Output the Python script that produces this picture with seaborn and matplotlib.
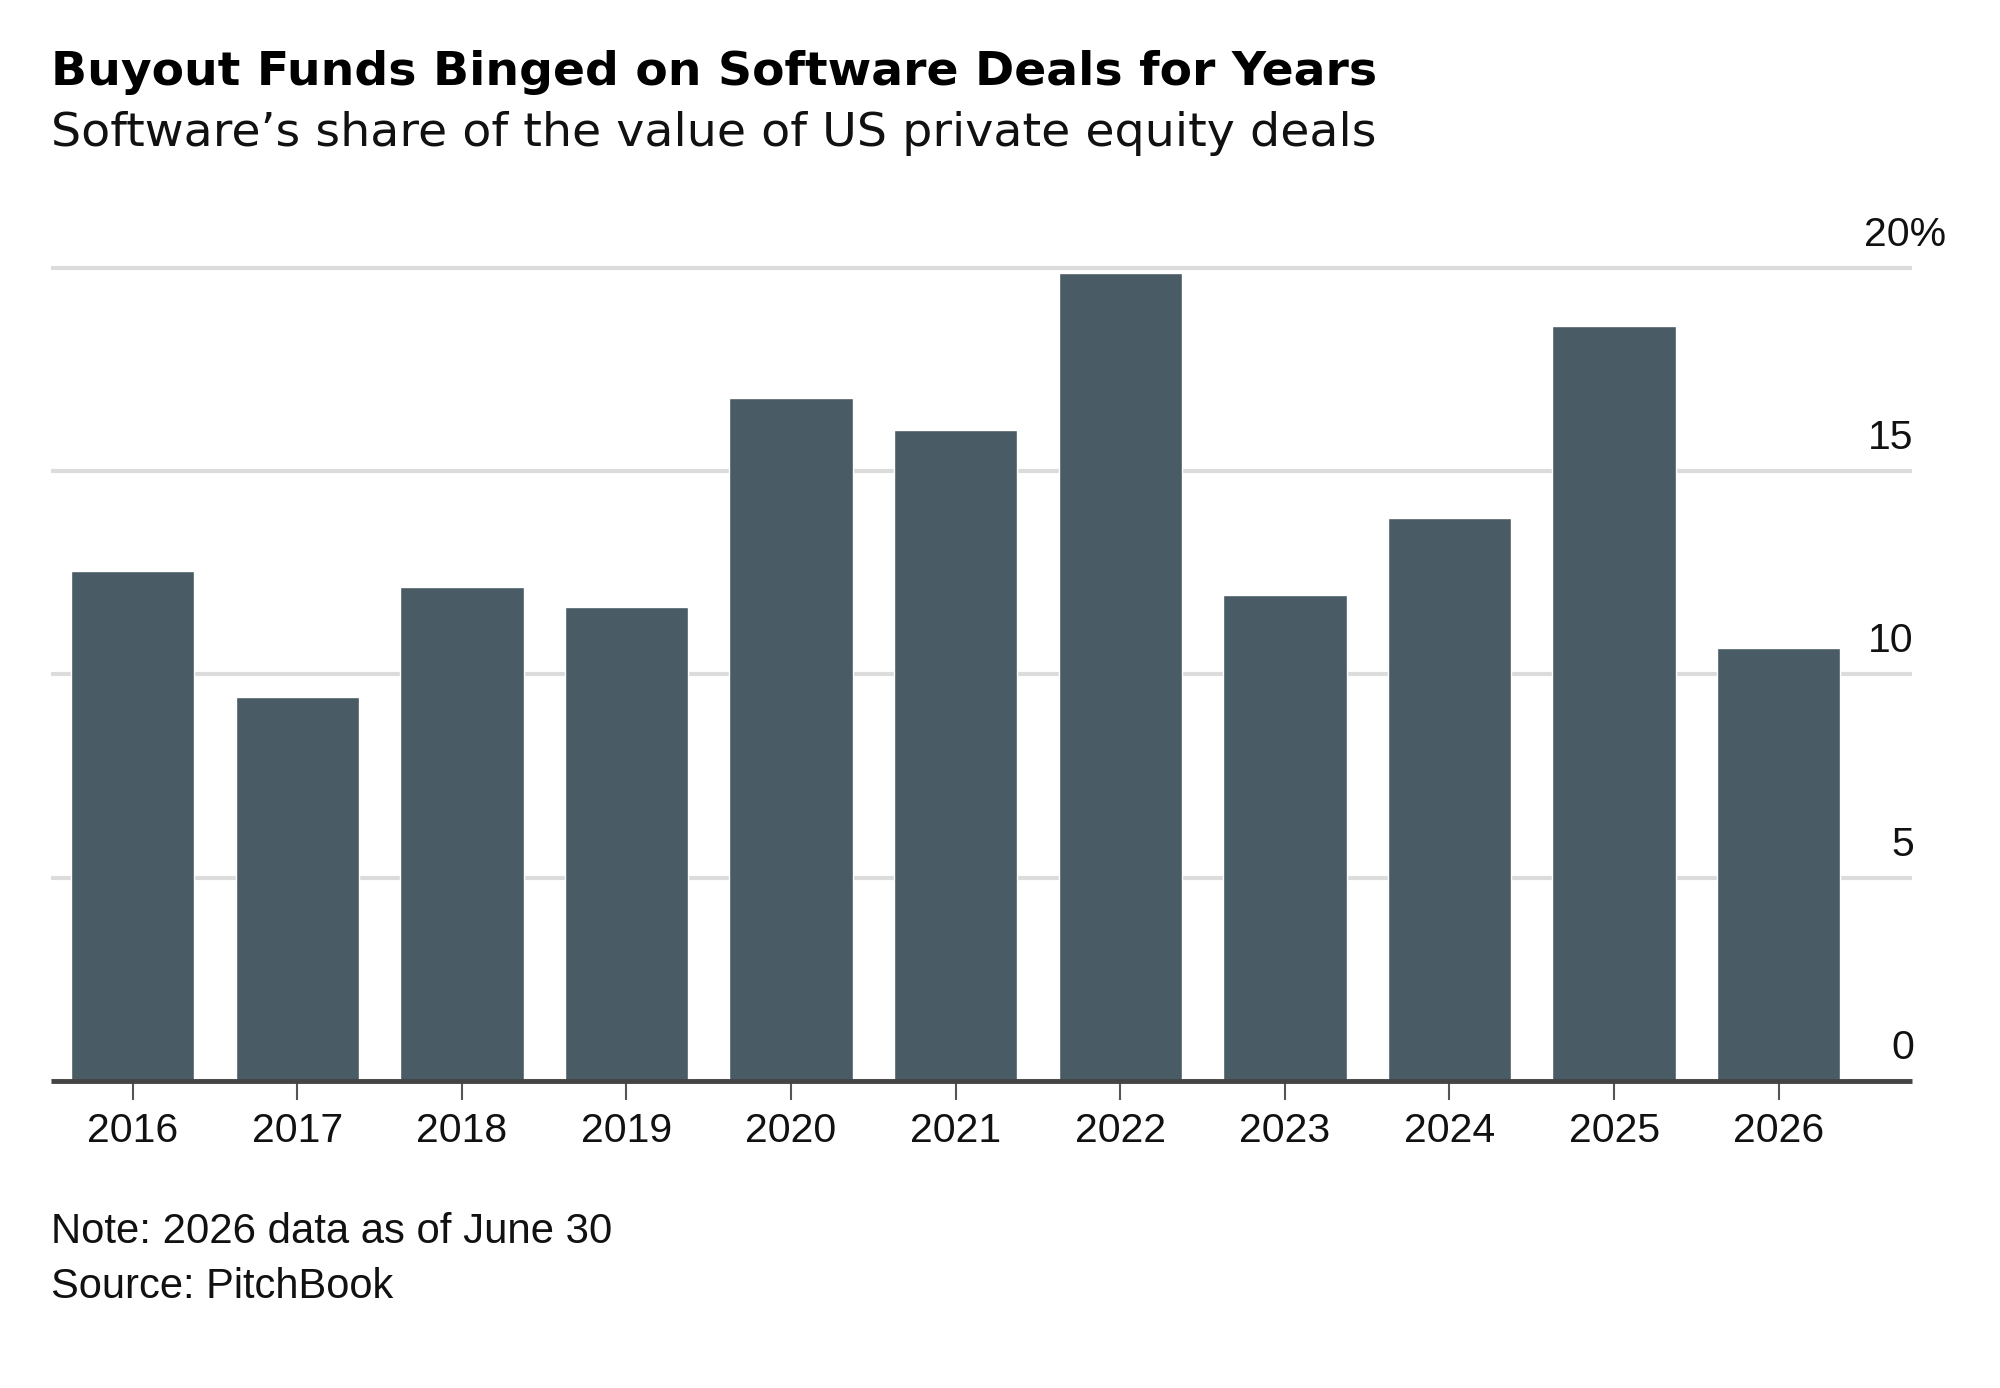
import matplotlib
matplotlib.use("Agg")
import matplotlib.pyplot as plt
import seaborn as sns
import pandas as pd

years = ["2016", "2017", "2018", "2019", "2020", "2021", "2022", "2023", "2024", "2025", "2026"]
share = [12.55, 9.45, 12.15, 11.65, 16.8, 16.0, 19.88, 11.95, 13.85, 18.58, 10.65]
ytick_values = [0, 5, 10, 15, 20]
ytick_labels = ["0", "5", "10", "15", "20%"]

title = "Buyout Funds Binged on Software Deals for Years"
subtitle = "Software\u2019s share of the value of US private equity deals"
note = "Note: 2026 data as of June 30"
source = "Source: PitchBook"

sns.set_theme(style="white")
plt.rcParams["font.family"] = ["Liberation Sans", "DejaVu Sans"]

df = pd.DataFrame({"year": years, "share": share})

W, H = 2000, 1388
fig = plt.figure(figsize=(W / 100, H / 100), dpi=100)
fig.patch.set_facecolor("white")

ax_left, ax_right = 51, 1912
ax_bottom_px = 1081
px_per_unit = 40.66
ymax = 20.5
ax_top_px = ax_bottom_px - ymax * px_per_unit
ax = fig.add_axes([ax_left / W, 1 - ax_bottom_px / H, (ax_right - ax_left) / W,
                   (ax_bottom_px - ax_top_px) / H])

sns.barplot(data=df, x="year", y="share", color="#495b64", saturation=1,
            width=0.75, ax=ax)

ax.set_ylim(0, ymax)
ax.set_xlim(-0.496, 10.81)
ax.set_yticks(ytick_values)
ax.yaxis.grid(True, color="#dcdcdc", linewidth=3)
ax.xaxis.grid(False)
ax.set_axisbelow(True)
ax.tick_params(axis="y", length=0, labelleft=False, labelright=False)
ax.tick_params(axis="x", length=14, width=1.5, color="#555555", pad=8,
               labelsize=29.5, labelcolor="#111111", bottom=True)
ax.set_xlabel("")
ax.set_ylabel("")
for s in ["top", "right", "left"]:
    ax.spines[s].set_visible(False)
ax.spines["bottom"].set_color("#444444")
ax.spines["bottom"].set_linewidth(3.5)
ax.spines["bottom"].set_capstyle("butt")
ax.spines["bottom"].set_zorder(5)

for v, lab in zip(ytick_values, ytick_labels):
    xr = 1.001 if not lab.endswith("%") else 1.0185
    ax.text(xr, v + 0.54, lab, transform=ax.get_yaxis_transform(),
            ha="right", va="baseline", fontsize=29.5, color="#111111")

fig.text(51 / W, 1 - 85 / H, title, fontsize=34, fontweight="bold",
         family=["DejaVu Sans"], color="#000000", ha="left", va="baseline")
fig.text(51 / W, 1 - 146 / H, subtitle, fontsize=34.2, family=["DejaVu Sans"],
         color="#111111", ha="left", va="baseline")
fig.text(51 / W, 1 - 1243 / H, note, fontsize=30.2, color="#111111",
         ha="left", va="baseline")
fig.text(51 / W, 1 - 1298 / H, source, fontsize=30, color="#111111",
         ha="left", va="baseline")

fig.savefig("out.png", dpi=100, facecolor="white")
